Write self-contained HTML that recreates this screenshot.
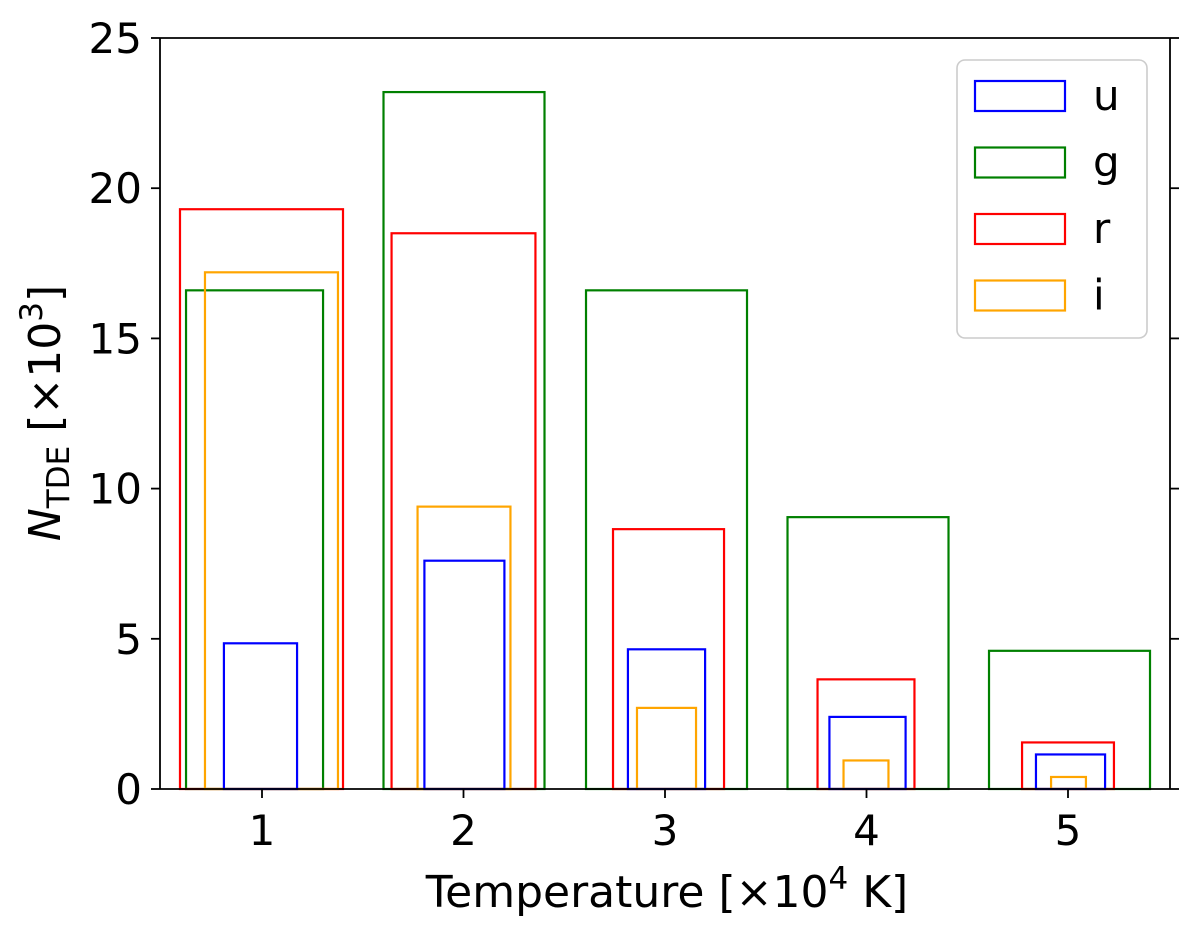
<!DOCTYPE html>
<html><head><meta charset="utf-8"><style>
body{margin:0;background:#fff}
svg text{font-family:"DejaVu Sans","Liberation Sans",sans-serif;fill:#000}
</style></head><body>
<svg id="chart" width="1200" height="939" viewBox="0 0 1200 939" xmlns="http://www.w3.org/2000/svg">
<g id="bars"></g>
<g id="axes"></g>
<g id="legend"></g>
</svg>
<script>
const categories=[1,2,3,4,5];
const bands=["u","g","r","i"];
const colors=["#0000ff","#008000","#ff0000","#ffa500"];
const uValues=[4.85,7.6,4.65,2.4,1.15];
const gValues=[16.6,23.2,16.6,9.05,4.6];
const rValues=[19.3,18.5,8.65,3.65,1.55];
const iValues=[17.2,9.4,2.7,0.95,0.4];
const yTicks=[0,5,10,15,20,25];
// bar extents relative to category (data units)
const uLeft=[-0.189,-0.194,-0.184,-0.184,-0.159], uRight=[0.174,0.203,0.199,0.194,0.184];
const gLeft=[-0.377,-0.397,-0.392,-0.392,-0.392], gRight=[0.303,0.402,0.407,0.407,0.407];
const rLeft=[-0.407,-0.357,-0.258,-0.243,-0.228], rRight=[0.402,0.357,0.293,0.238,0.228];
const iLeft=[-0.283,-0.228,-0.139,-0.114,-0.084], iRight=[0.377,0.233,0.154,0.109,0.089];

const NS="http://www.w3.org/2000/svg";
const X0=160,X1=1170,Y0=789,Y1=38;
const xs=v=>262+(v-1)*201.5;
const ys=v=>Y0-(v/25)*(Y0-Y1);
function mk(tag,attrs,parent){const e=document.createElementNS(NS,tag);for(const k in attrs)e.setAttribute(k,attrs[k]);parent.appendChild(e);return e;}
const bars=document.getElementById('bars'),axes=document.getElementById('axes'),legend=document.getElementById('legend');
const series=[[gValues,gLeft,gRight,1],[rValues,rLeft,rRight,2],[iValues,iLeft,iRight,3],[uValues,uLeft,uRight,0]];
series.forEach(([vals,L,R,ci])=>{
  categories.forEach((c,k)=>{
    const x1=xs(c+L[k]),x2=xs(c+R[k]),y=ys(vals[k]);
    const r=mk('rect',{x:x1,y:y,width:x2-x1,height:Y0-y,fill:'none',stroke:colors[ci],'stroke-width':2.2},bars);
    
    
  });
});
let s;
s=mk('line',{x1:X0,y1:Y1,x2:X0,y2:Y0,stroke:'#000','stroke-width':1.8},axes);
s=mk('line',{x1:X1,y1:Y1,x2:X1,y2:Y0,stroke:'#000','stroke-width':1.8},axes);
s=mk('line',{x1:X0,y1:Y1,x2:X1,y2:Y1,stroke:'#000','stroke-width':1.8},axes);
s=mk('line',{x1:X0,y1:Y0,x2:X1,y2:Y0,stroke:'#000','stroke-width':1.8},axes);
yTicks.forEach(t=>{
  const y=ys(t);
  mk('line',{x1:X0-9,y1:y,x2:X0,y2:y,stroke:'#000','stroke-width':1.8},axes);
  mk('line',{x1:X1,y1:y,x2:X1+9,y2:y,stroke:'#000','stroke-width':1.8},axes);
  const tx=mk('text',{x:X0-18,y:y+15,'text-anchor':'end','font-size':42},axes);tx.textContent=t;
  
});
categories.forEach(c=>{
  const x=xs(c);
  mk('line',{x1:x,y1:Y0,x2:x,y2:Y0+9,stroke:'#000','stroke-width':1.8},axes);
  const tx=mk('text',{x:x,y:Y0+56,'text-anchor':'middle','font-size':42},axes);tx.textContent=c;
  
});
let xl=mk('text',{x:667,y:907,'text-anchor':'middle','font-size':44},axes);
xl.innerHTML='Temperature [×10<tspan dy="-18" font-size="31">4</tspan><tspan dy="18"> K]</tspan>';

let yl=mk('text',{x:0,y:0,'text-anchor':'middle','font-size':44,transform:'translate(60,413) rotate(-90)'},axes);
yl.innerHTML='<tspan font-style="italic">N</tspan><tspan dy="9" font-size="31">TDE</tspan><tspan dy="-9"> [×10</tspan><tspan dy="-18" font-size="31">3</tspan><tspan dy="18">]</tspan>';

let lb=mk('rect',{x:957,y:60,width:190,height:278,rx:8,fill:'#fff','fill-opacity':0.8,stroke:'#ccc','stroke-width':1.6},legend);

bands.forEach((b,k)=>{
  const y=81+k*66.5;
  const r=mk('rect',{x:975,y:y,width:90,height:30,fill:'none',stroke:colors[k],'stroke-width':2.2},legend);
  
  const t=mk('text',{x:1093,y:y+29,'font-size':42},legend);t.textContent=b;
  
});
</script>
</body></html>
